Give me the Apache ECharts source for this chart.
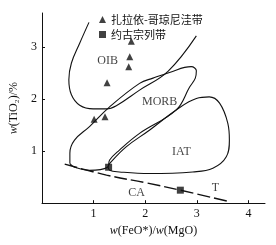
<!DOCTYPE html>
<html><head><meta charset="utf-8">
<script src="https://cdn.jsdelivr.net/npm/echarts@6/dist/echarts.min.js"></script>
<style>html,body{margin:0;padding:0;background:#fff}#c{width:276px;height:245px}</style>
</head><body><div id="c"></div>
<script>
var seriesNames = ['扎拉依-哥琼尼洼带', '约古宗列带'];
var zhalayiPoints = [[1.01,1.61],[1.22,1.66],[1.26,2.31],[1.68,2.62],[1.70,2.81],[1.73,3.11]];
var yueguPoints = [[1.29,0.69],[2.68,0.25]];
var xTicks = [1,2,3,4];
var yTicks = [1,2,3];
var oibCurve = [[0.91,3.47],[0.73,3.07],[0.57,2.69],[0.52,2.37],[0.57,2.08],[0.73,1.88],[0.99,1.81],[1.25,1.81],[1.44,1.87],[1.89,2.17],[2.44,2.53],[2.99,3.21]];
var morbCurve = [[0.54,0.76],[0.54,0.96],[0.63,1.21],[0.92,1.47],[1.31,1.85],[1.89,2.30],[2.15,2.40],[2.47,2.51],[2.89,2.62],[2.99,2.54],[2.97,2.40],[2.86,2.23],[2.60,1.79],[1.89,1.34],[1.50,1.02],[1.31,0.83],[1.27,0.69],[0.92,0.63],[0.63,0.69],[0.54,0.76]];
var iatCurve = [[1.28,0.70],[1.31,0.76],[1.63,1.08],[2.08,1.40],[2.60,1.79],[2.99,2.01],[3.24,2.04],[3.44,1.92],[3.60,1.53],[3.63,1.21],[3.57,0.89],[3.31,0.67],[2.92,0.60],[2.08,0.57],[1.50,0.60],[1.31,0.63],[1.28,0.70]];
var caLine = [[0.44,0.75],[1.25,0.54],[2.02,0.39],[2.68,0.25],[3.63,0.03]];
var fieldLabels = [['OIB',1.27,2.74],['MORB',2.28,1.95],['IAT',2.70,0.99],['CA',1.83,0.19],['T',3.36,0.29]];

var serif = 'Liberation Serif, DejaVu Serif, serif';
function curve(d, dashed, w) {
  return {type:'line', data:d, smooth:0.4, showSymbol:false, silent:true, z:1,
    lineStyle:{color:'#111', width:w||1.1, type: dashed ? [13,4] : 'solid'}};
}
var chart = echarts.init(document.getElementById('c'));
chart.setOption({
  animation:false,
  grid:{left:42, right:11, top:13, bottom:41.8},
  legend:{
    data:seriesNames, orient:'vertical', left:94, top:8,
    itemWidth:7, itemHeight:7, itemGap:2,
    textStyle:{fontFamily:'Noto Sans CJK SC', fontSize:11, color:'#111', lineHeight:13}
  },
  xAxis:{type:'value', min:0, max:4.32, interval:1,
    name:'{i|w}(FeO*)/{i|w}(MgO)', nameLocation:'middle', nameGap:19,
    nameTextStyle:{fontFamily:serif, fontSize:12, color:'#111', rich:{i:{fontStyle:'italic', fontFamily:serif, fontSize:12, color:'#111'}}},
    axisLine:{lineStyle:{color:'#111', width:1}},
    axisTick:{inside:true, length:3, customValues:xTicks, lineStyle:{color:'#111'}},
    axisLabel:{customValues:xTicks, margin:5, fontFamily:serif, fontSize:12, color:'#111'},
    splitLine:{show:false}},
  yAxis:{type:'value', min:0, max:3.65, interval:1,
    name:'{i|w}(TiO₂)/%', nameLocation:'middle', nameGap:17, nameRotate:90,
    nameTextStyle:{fontFamily:serif, fontSize:12, color:'#111', rich:{i:{fontStyle:'italic', fontFamily:serif, fontSize:12, color:'#111'}}},
    axisLine:{show:true, lineStyle:{color:'#111', width:1}},
    axisTick:{show:true, inside:true, length:3, customValues:yTicks, lineStyle:{color:'#111'}},
    axisLabel:{customValues:yTicks, margin:5, fontFamily:serif, fontSize:12, color:'#111'},
    splitLine:{show:false}},
  series:[
    curve(oibCurve), curve(morbCurve), curve(iatCurve), curve(caLine, true, 1.4),
    {type:'scatter', silent:true, data:fieldLabels.map(function(l){return {name:l[0], value:[l[1],l[2]]};}),
      symbolSize:0, label:{show:true, position:'inside', formatter:'{b}', fontFamily:serif, fontSize:12, color:'#111'}},
    {name:seriesNames[0], type:'scatter', data:zhalayiPoints, symbol:'triangle', symbolSize:7, itemStyle:{color:'#111'}, z:3},
    {name:seriesNames[1], type:'scatter', data:yueguPoints, symbol:'rect', symbolSize:7, itemStyle:{color:'#111'}, z:3}
  ]
});
</script></body></html>
